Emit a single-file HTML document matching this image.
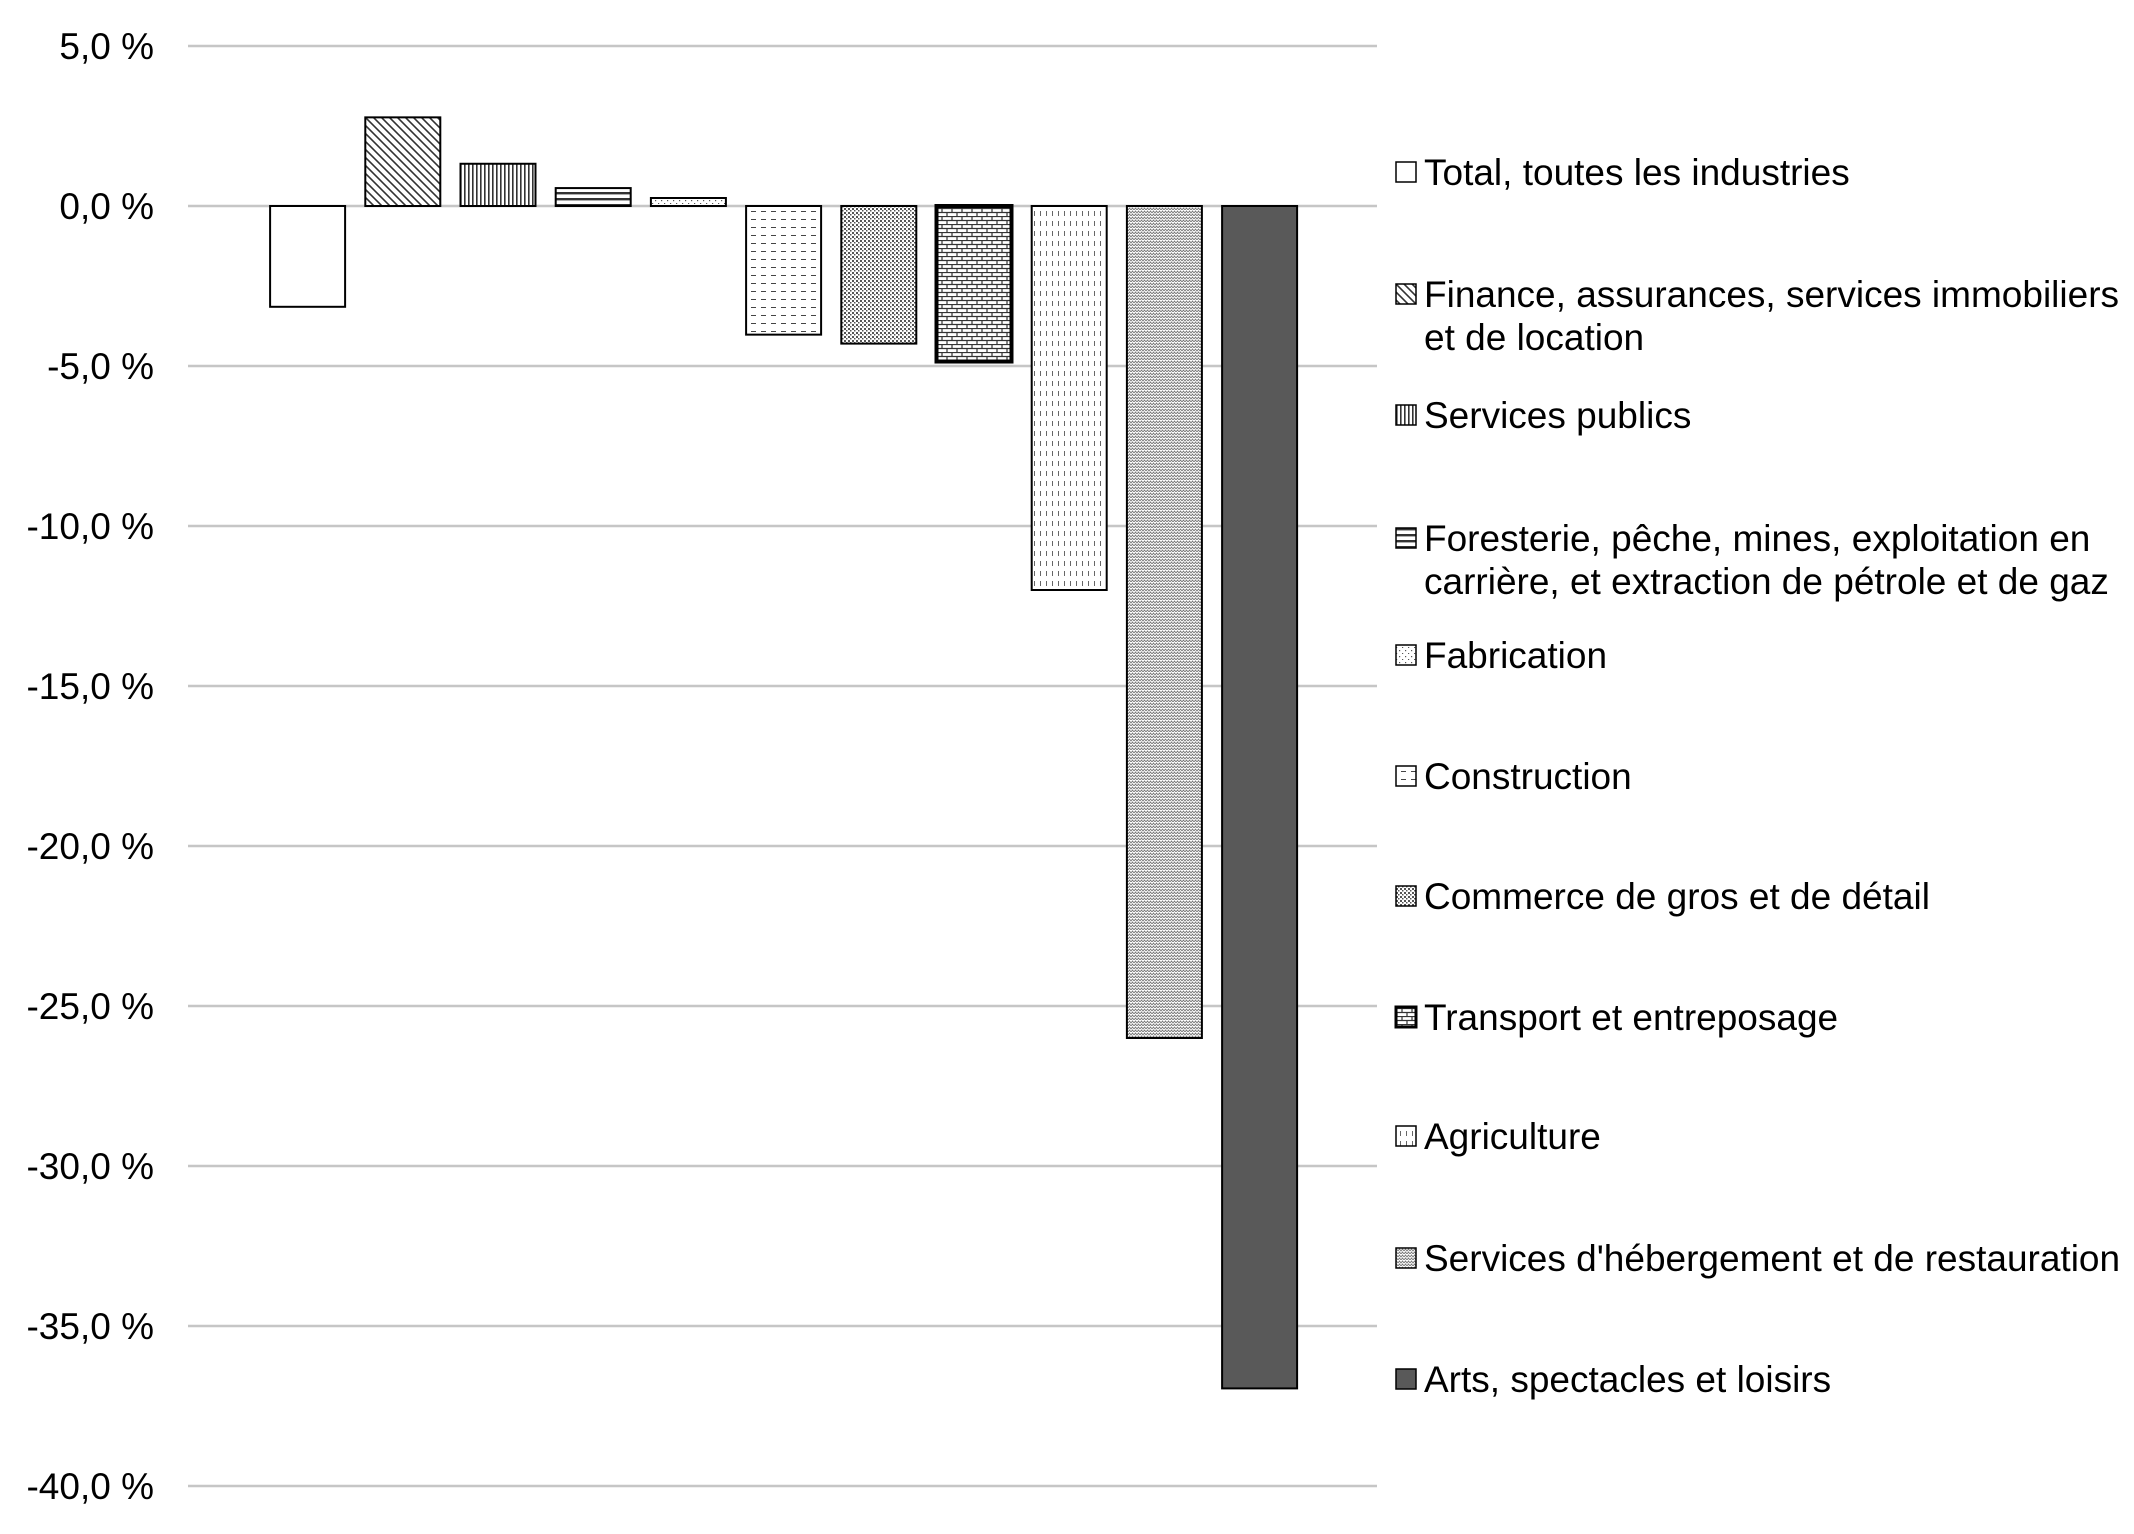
<!DOCTYPE html>
<html><head><meta charset="utf-8"><style>
html,body{margin:0;padding:0;background:#fff;}
svg{display:block;font-family:"Liberation Sans",Arial,sans-serif;}
</style></head><body>
<svg id="chart" width="2134" height="1534" viewBox="0 0 2134 1534" xmlns="http://www.w3.org/2000/svg">
<defs>
<pattern id="p0" width="8" height="8" patternUnits="userSpaceOnUse"><rect width="8" height="8" fill="#fff"/></pattern>
<pattern id="p1" width="8" height="8" patternUnits="userSpaceOnUse"><rect width="8" height="8" fill="#fff"/><path d="M-2,-2 L10,10 M-2,6 L2,10 M6,-2 L10,2" stroke="#333" stroke-width="1.6"/></pattern>
<pattern id="p2" width="4" height="8" patternUnits="userSpaceOnUse"><rect width="4" height="8" fill="#fff"/><rect x="0" width="1.6" height="8" fill="#333"/></pattern>
<pattern id="p3" width="8" height="6" patternUnits="userSpaceOnUse"><rect width="8" height="6" fill="#fff"/><rect y="0" width="8" height="2.4" fill="#333"/></pattern>
<pattern id="p4" width="6" height="6" patternUnits="userSpaceOnUse"><rect width="6" height="6" fill="#fff"/><rect x="1" y="2" width="1.2" height="1.2" fill="#555"/><rect x="4" y="5" width="1.2" height="1.2" fill="#555"/></pattern>
<pattern id="p5" width="10" height="8" patternUnits="userSpaceOnUse"><rect width="10" height="8" fill="#fff"/><rect x="1" y="3" width="5" height="1" fill="#444"/></pattern>
<pattern id="p6" width="4" height="4" patternUnits="userSpaceOnUse"><rect width="4" height="4" fill="#fff"/><rect x="0" y="0" width="2" height="2" fill="#555"/><rect x="2" y="2" width="1.5" height="1.5" fill="#555"/></pattern>
<pattern id="p7" width="10" height="8" patternUnits="userSpaceOnUse"><rect width="10" height="8" fill="#fff"/><path d="M0,0.5 H10 M0,4.5 H10 M2,0 V4 M7,4 V8" stroke="#333" stroke-width="1.2"/></pattern>
<pattern id="p8" width="6" height="10" patternUnits="userSpaceOnUse"><rect width="6" height="10" fill="#fff"/><rect x="2" y="1" width="1" height="5" fill="#666"/></pattern>
<pattern id="p9" width="6" height="6" patternUnits="userSpaceOnUse"><rect width="6" height="6" fill="#fff"/><path d="M0,3 L1.5,1 L3,3 L4.5,1 L6,3 M0,6 L1.5,4 L3,6 L4.5,4 L6,6" stroke="#777" stroke-width="0.9" fill="none"/></pattern>
<pattern id="p10" width="4" height="4" patternUnits="userSpaceOnUse"><rect width="4" height="4" fill="#595959"/></pattern>
</defs>
<g id="grid"></g>
<g id="yaxis"></g>
<g id="bars"></g>
<g id="legend"></g>
</svg>
<script>
const categories = ["Total, toutes les industries","Finance, assurances, services immobiliers|et de location","Services publics","Foresterie, pêche, mines, exploitation en|carrière, et extraction de pétrole et de gaz","Fabrication","Construction","Commerce de gros et de détail","Transport et entreposage","Agriculture","Services d'hébergement et de restauration","Arts, spectacles et loisirs"];
const values = [-3.15, 2.77, 1.32, 0.56, 0.25, -4.02, -4.3, -4.86, -12.0, -26.0, -36.95];
const tickValues = [5, 0, -5, -10, -15, -20, -25, -30, -35, -40];
const tickLabels = ["5,0 %","0,0 %","-5,0 %","-10,0 %","-15,0 %","-20,0 %","-25,0 %","-30,0 %","-35,0 %","-40,0 %"];

const NS = "http://www.w3.org/2000/svg";
const plotL = 188, plotR = 1377, y0 = 206, perUnit = 160/5;
const yScale = v => y0 - v * perUnit;
const band = 95.2, firstCenter = 307.6, barW = 75;
const xScale = i => firstCenter + i * band;
function mk(tag, attrs, parent){const e=document.createElementNS(NS,tag);for(const k in attrs)e.setAttribute(k,attrs[k]);parent.appendChild(e);return e;}

const grid=document.getElementById('grid'), yaxis=document.getElementById('yaxis');
tickValues.forEach((t,i)=>{
  const y=yScale(t);
  const l=mk('line',{x1:plotL,x2:plotR,y1:y,y2:y,stroke:'#c6c6c6','stroke-width':2.5},grid);
  
  
  const tx=mk('text',{x:154,y:y+13,'text-anchor':'end','font-size':37,fill:'#000'},yaxis);
  tx.textContent=tickLabels[i];
  
  
});

const bars=document.getElementById('bars');
values.forEach((v,i)=>{
  const ya=yScale(Math.max(v,0)), yb=yScale(Math.min(v,0));
  const r=mk('rect',{x:xScale(i)-barW/2,y:ya,width:barW,height:Math.max(yb-ya,1),fill:'url(#p'+i+')',stroke:'#000','stroke-width':i===7?4:2},bars);
  
  
});

const legend=document.getElementById('legend');
const baselines=[185,307,428,551,668,789,909,1030,1149,1271,1392];
categories.forEach((c,i)=>{
  const by=baselines[i];
  const g=mk('g',{},legend);
  
  
  const sw=mk('rect',{x:1396,y:by-23,width:20,height:20,fill:'url(#p'+i+')',stroke:'#000','stroke-width':i===7?3:1.5},g);
  
  
  c.split('|').forEach((ln,j)=>{
    const t=mk('text',{x:1424,y:by+j*43,'font-size':37,fill:'#000'},g);
    t.textContent=ln;
    
    
  });
});
</script>
</body></html>
